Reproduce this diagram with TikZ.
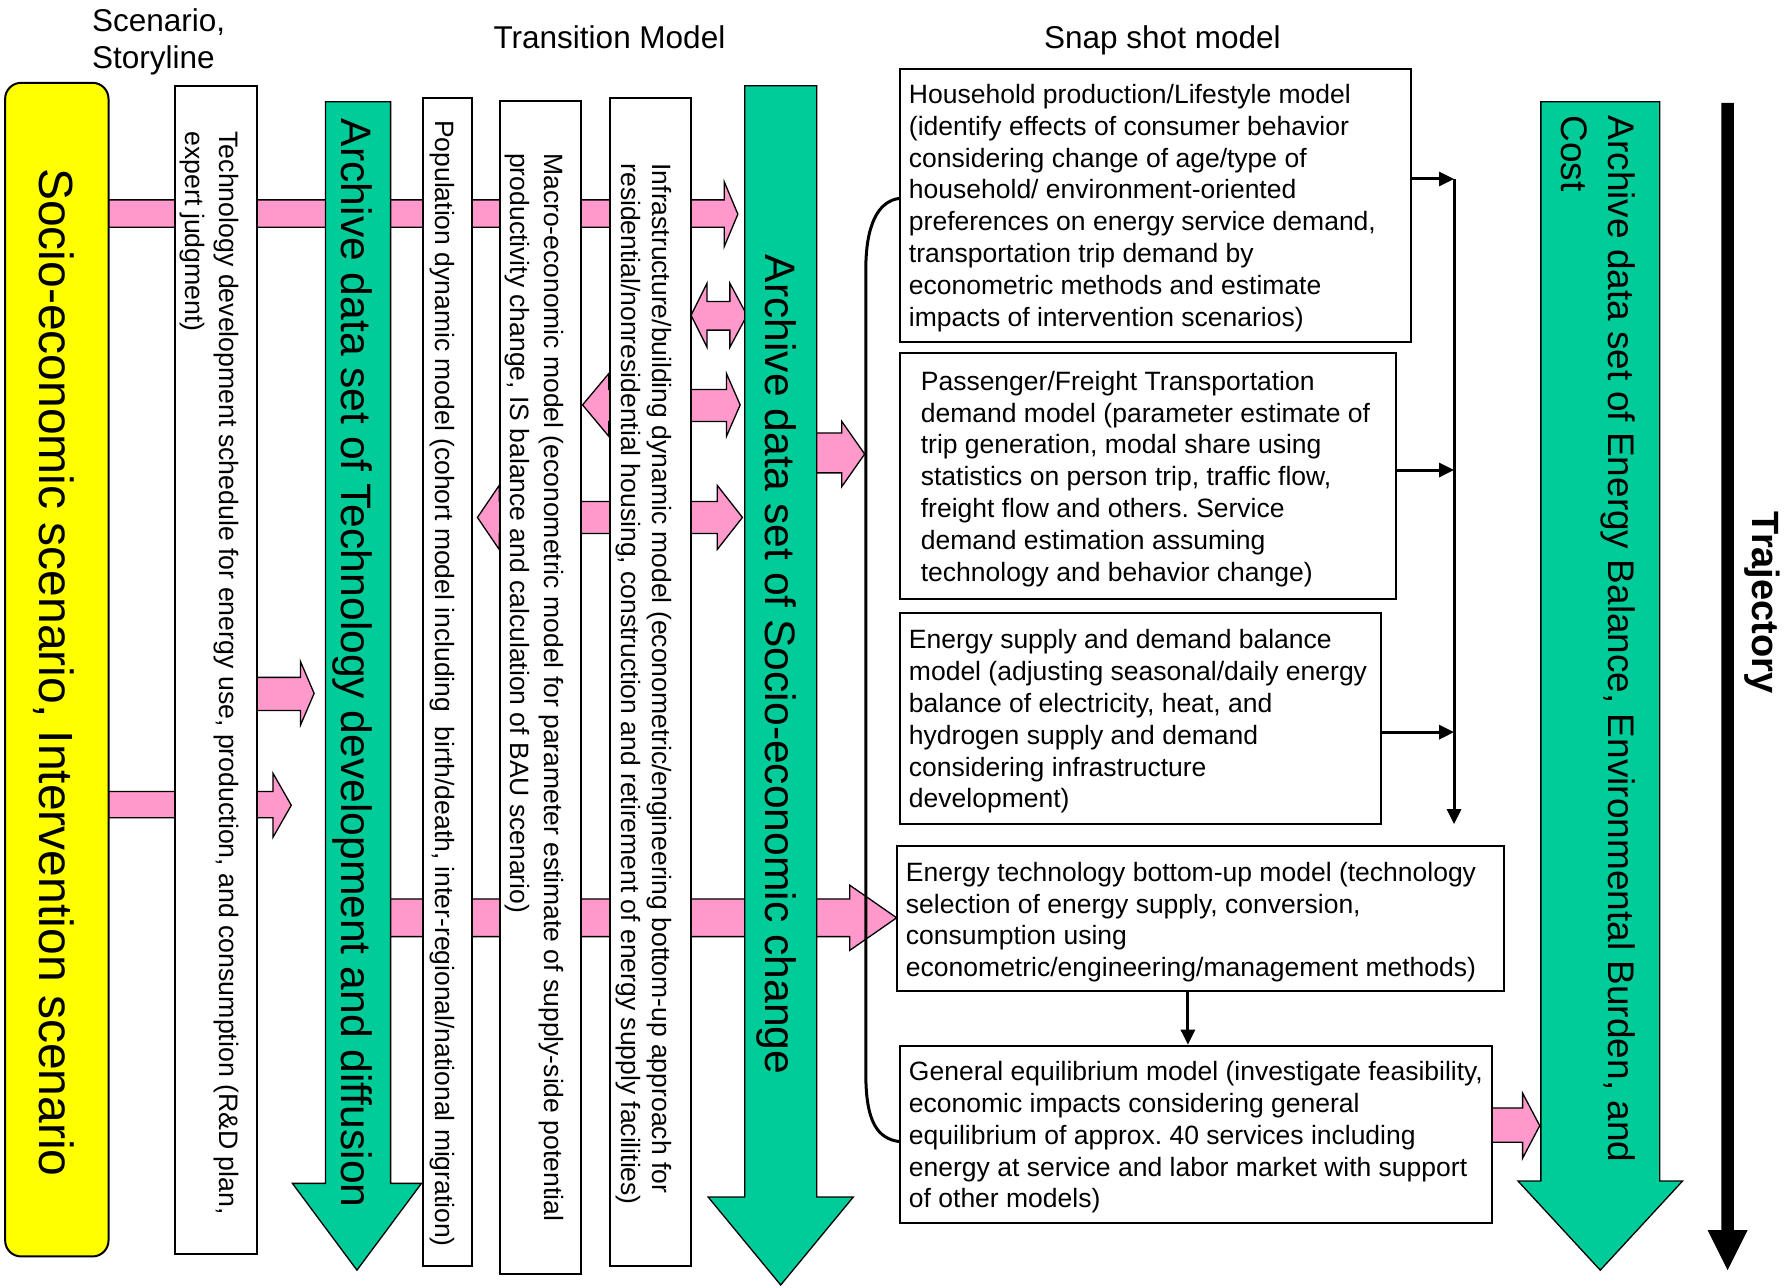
\documentclass[tikz,border=0pt]{standalone}
\usepackage{fontspec}
\setmainfont{Liberation Sans}
\usetikzlibrary{arrows.meta,fit}
\definecolor{pinkc}{RGB}{255,153,204}
\definecolor{greenc}{RGB}{0,204,153}
\definecolor{yellowc}{RGB}{255,255,0}
\newcommand{\myfs}[2]{\fontsize{#1}{#2}\selectfont}
\newcommand{\mystrut}{\rule{0pt}{0.8em}}
% right-pointing pink arrow: x0, band y1, band y2, head base x, head y1, head y2, tip x
\newcommand{\pinkR}[7]{\path[pinkarrow] (#1,#2) -- (#4,#2) -- (#4,#5) -- (#7,{(#5+#6)/2}) -- (#4,#6) -- (#4,#3) -- (#1,#3) -- cycle;}
% double pink arrow: left tip, left base, right base, band y1, band y2, head y1, head y2, right tip
\newcommand{\pinkD}[8]{\path[pinkarrow] (#1,{(#6+#7)/2}) -- (#2,#6) -- (#2,#4) -- (#3,#4) -- (#3,#6) -- (#8,{(#6+#7)/2}) -- (#3,#7) -- (#3,#5) -- (#2,#5) -- (#2,#7) -- cycle;}
\tikzset{
  pinkarrow/.style={fill=pinkc, draw=black, line width=1.3pt, line join=miter},
  greenarrow/.style={fill=greenc, draw=black, line width=1.3pt, line join=miter},
  wbox/.style={draw=black, fill=white, line width=2pt, inner sep=0pt},
  vtext/.style={rotate=-90, inner sep=0pt, align=left, anchor=north west},
  vline/.style={rotate=-90, inner sep=0pt, anchor=base west},
  snaptext/.style={inner sep=0pt, align=left, anchor=north west, font=\myfs{26.5}{31.8}},
  head/.style={inner sep=0pt, anchor=base west, font=\myfs{31.5}{36.6}},
  conn/.style={line width=3pt, -{Triangle[length=15pt,width=14pt]}},
}
\frenchspacing
\begin{document}
\begin{tikzpicture}[x=1.1422pt, y=-1.1422pt]
\useasboundingbox (0,0) rectangle (1568,1127);

% headings
\node[inner sep=0pt, anchor=north west, align=left, font=\myfs{31.5}{36.6}] (hscen) at (80.4,5.6) {\mystrut Scenario,\\Storyline};
\node[head] (htrans) at (432,42.3) {Transition Model};
\node[head] (hsnap) at (914,42.3) {Snap shot model};

% pink arrows (behind the boxes)
\pinkR{95}{175}{199}{634}{159}{216}{646}
\pinkR{95}{693}{716}{239}{677}{733}{255}
\pinkR{200}{593}{622}{263}{579}{635}{275}
\pinkD{605}{619}{639}{264}{289}{248}{304}{654}
\pinkD{510}{533}{636}{341}{369}{327}{382}{648}
\pinkD{418}{437}{628}{439}{467}{425}{481}{650}
\pinkR{700}{379}{414}{737}{369}{426}{757}
\pinkR{320}{787}{820}{744}{775}{832}{785}
\pinkR{1300}{970}{1000}{1333}{957}{1014}{1348}

% yellow scenario box
\node[fit={(4.5,72.5)(95,1100)}, draw=black, fill=yellowc, rounded corners=16pt, line width=2pt, inner sep=0pt] (yel) {};
\node[vline, font=\myfs{48}{58}] (yelt) at (34.5,147) {Socio-economic scenario, Intervention scenario};

% technology box
\node[wbox, fit={(153,75)(225,1098)}] (tech) {};
\node[vtext, font=\myfs{26.7}{34}] (techt) at (211,115) {\mystrut Technology development schedule for energy use, production, and consumption (R\&D plan,\\expert judgment)};

% green arrow: technology
\path[greenarrow] (285,89) -- (342,89) -- (342,1036) -- (369,1036) -- (312.5,1112) -- (256,1036) -- (285,1036) -- cycle;
\node[vline, font=\myfs{42.6}{51}] (techarch) at (299,104) {Archive data set of Technology development and diffusion};

% population box
\node[wbox, fit={(370,85.5)(413,1108)}] (pop) {};
\node[vtext, font=\myfs{26.5}{32}] (popt) at (400,105) {\mystrut Population dynamic model (cohort model including~ birth/death, inter-regional/national migration)};

% macro box
\node[wbox, fit={(438,88)(509,1115)}] (macro) {};
\node[vtext, font=\myfs{26.5}{34}] (macrot) at (495,134) {\mystrut Macro-economic model (econometric model for parameter estimate of supply-side potential\\productivity change, IS balance and calculation of BAU scenario)};

% infrastructure box
\node[wbox, fit={(534,85.5)(605,1108)}] (infra) {};
\node[vtext, font=\myfs{26.5}{31}] (infrat) at (590,143) {\mystrut Infrastructure/building dynamic model (econometric/engineering bottom-up approach for\\residential/nonresidential housing, construction and retirement of energy supply facilities)};

% green arrow: socio-economic change
\path[greenarrow] (652,75) -- (715,75) -- (715,1048) -- (747,1048) -- (683.5,1125) -- (620,1048) -- (652,1048) -- cycle;
\node[vline, font=\myfs{42.6}{51}] (socioarch) at (670,223) {Archive data set of Socio-economic change};

% snapshot boxes
\node[wbox, fit={(787.8,60)(1235.4,299)}] (s1) {};
\node[snaptext] (s1t) at (795.6,71.9) {\mystrut Household production/Lifestyle model\\(identify effects of consumer behavior\\considering change of age/type of\\household/ environment-oriented\\preferences on energy service demand,\\transportation trip demand by\\econometric methods and estimate\\impacts of intervention scenarios)};

\node[wbox, fit={(788,309)(1221.8,524.5)}] (s2) {};
\node[snaptext] (s2t) at (806,322.9) {\mystrut Passenger/Freight Transportation\\demand model (parameter estimate of\\trip generation, modal share using\\statistics on person trip, traffic flow,\\freight flow and others. Service\\demand estimation assuming\\technology and behavior change)};

\node[wbox, fit={(788,537)(1209,721)}] (s3) {};
\node[snaptext] (s3t) at (795.6,549.4) {\mystrut Energy supply and demand balance\\model (adjusting seasonal/daily energy\\balance of electricity, heat, and\\hydrogen supply and demand\\considering infrastructure\\development)};

\node[wbox, fit={(785,740.7)(1317,868)}] (s4) {};
\node[snaptext] (s4t) at (793,752.9) {\mystrut Energy technology bottom-up model (technology\\selection of energy supply, conversion,\\consumption using\\econometric/engineering/management methods)};

\node[wbox, fit={(787.8,915.5)(1306.6,1071)}] (s5) {};
\node[snaptext] (s5t) at (795.6,927.4) {\mystrut General equilibrium model (investigate feasibility,\\economic impacts considering general\\equilibrium of approx. 40 services including\\energy at service and labor market with support\\of other models)};

% connectors on the right of the snapshot boxes
\coordinate (b1) at (1273,156.7);
\coordinate (b2) at (1273,411.5);
\coordinate (b3) at (1273,641);
\coordinate (bend) at (1273,721.5);
\draw[conn] (s1.east |- b1) -- (b1);
\draw[conn] (s2.east |- b2) -- (b2);
\draw[conn] (s3.east |- b3) -- (b3);
\draw[line width=3pt, -{Triangle[length=15pt,width=14pt]}] (b1) -- (bend);

% S4 -> S5
\coordinate (ax) at (1040,0);
\draw[conn] (s4.south -| ax) -- (s5.north -| ax);

% bracket on the left
\coordinate (bk1) at (787.8,173.6);
\coordinate (bk2) at (787.8,999.5);
\draw[line width=3pt] (bk1) .. controls (768,176) and (758,198) .. (758,236) -- (758,940) .. controls (758,982) and (768,997) .. (bk2);

% green arrow: energy balance
\path[greenarrow] (1349,89) -- (1453,89) -- (1453,1034) -- (1473,1034) -- (1401,1112) -- (1329,1034) -- (1349,1034) -- cycle;
\node[vtext, font=\myfs{37}{46.8}] (energyarch) at (1434,101) {\mystrut Archive data set of Energy Balance, Environmental Burden, and\\Cost};

% trajectory arrow
\path[fill=black] (1507,90) -- (1518,90) -- (1518,1077) -- (1530,1077) -- (1512.5,1112) -- (1495,1077) -- (1507,1077) -- cycle;
\node[vline, font=\myfs{38}{45}\bfseries] (traj) at (1534,448) {Trajectory};
\end{tikzpicture}
\end{document}
